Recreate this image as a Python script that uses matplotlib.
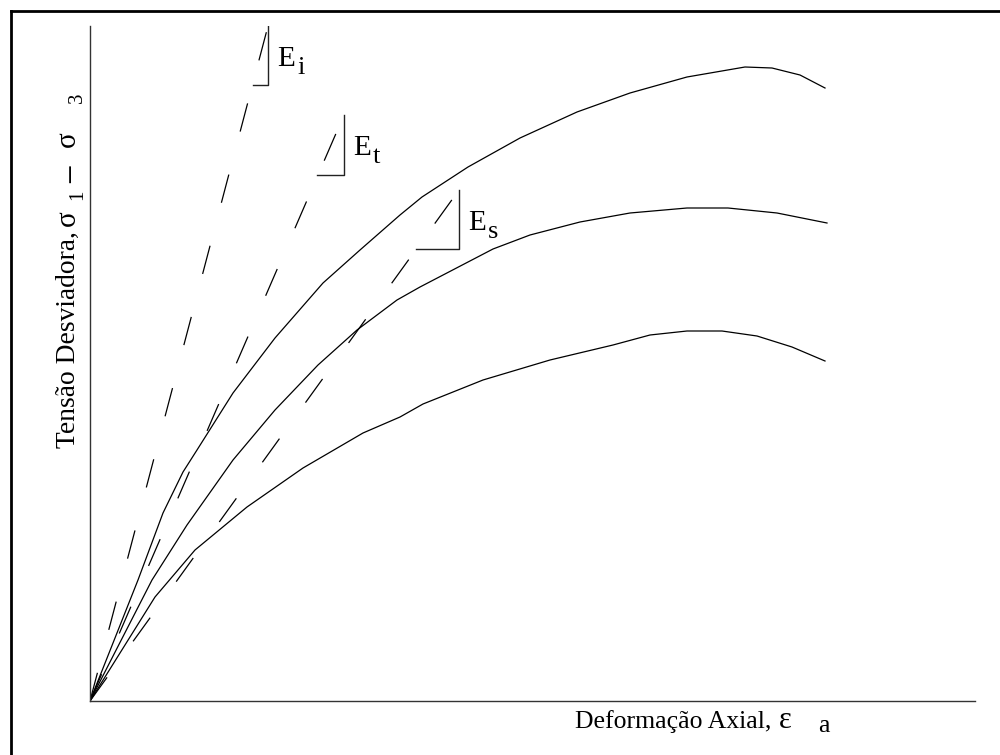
import matplotlib
matplotlib.use("Agg")
import matplotlib.pyplot as plt
from matplotlib.lines import Line2D

plt.rcParams['font.family'] = ['Liberation Serif', 'DejaVu Serif']
plt.rcParams['lines.scale_dashes'] = False

# Curves (axial strain, deviator stress) in arbitrary units
eps_top = [0, 48, 73, 93, 107, 143, 185, 233, 270, 310, 332, 378, 430, 487, 540, 597, 655, 682, 710, 735]
sig_top = [0, 121, 188, 229, 251, 308, 363, 418, 451, 486, 504, 534, 563, 589, 608, 624, 634, 633, 626, 613]

eps_mid = [0, 62, 97, 143, 185, 228, 267, 307, 330, 403, 440, 490, 540, 597, 638, 687, 737]
sig_mid = [0, 121, 176, 241, 291, 336, 371, 401, 414, 452, 466, 479, 488, 493, 493, 488, 478]

eps_low = [0, 65, 105, 157, 213, 273, 310, 333, 393, 460, 523, 560, 597, 632, 667, 702, 735]
sig_low = [0, 104, 151, 194, 233, 268, 284, 297, 321, 341, 356, 366, 370, 370, 365, 354, 340]

# Moduli: dashed lines from origin to these end points, with slope triangles
mod_labels = ['i', 't', 's']
mod_end_eps = [178, 254, 369]
mod_end_sig = [675, 586, 511]
tri_base = [15, 27, 43]
tri_height = [59, 60, 59]

fig = plt.figure(figsize=(10, 7.55), dpi=100)
ax = fig.add_axes([0.09, 54 / 755, 0.885, 675 / 755])
ax.set_xlim(0, 885)
ax.set_ylim(0, 675)
for s in ['top', 'right']:
    ax.spines[s].set_visible(False)
for s in ['left', 'bottom']:
    ax.spines[s].set_color('#333333')
    ax.spines[s].set_linewidth(1.0)
ax.set_xticks([])
ax.set_yticks([])

for e, s in [(eps_top, sig_top), (eps_mid, sig_mid), (eps_low, sig_low)]:
    ax.plot(e, s, color='black', lw=0.9, solid_joinstyle='round')

for lab, xe, ye, b, h in zip(mod_labels, mod_end_eps, mod_end_sig, tri_base, tri_height):
    ax.plot([0, xe], [0, ye], color='black', lw=0.9, dashes=(21, 32))
    ax.plot([xe - b, xe, xe], [ye - h, ye - h, ye], color='#222222', lw=1.0)
    ax.text(xe + 9, ye - 40, 'E', fontsize=21, ha='left', va='baseline')
    ax.text(xe + 29, ye - 48, lab, fontsize=19, ha='left', va='baseline')

# X axis title
ax.text(485, -27, 'Deformação Axial,', fontsize=18.5, ha='left', va='baseline', clip_on=False)
ax.text(689, -27, 'ε', fontsize=22, ha='left', va='baseline', clip_on=False)
ax.text(728, -31, 'a', fontsize=18.5, ha='left', va='baseline', clip_on=False)

# Y axis title (pieces, rotated)
ykw = dict(rotation=90, rotation_mode='anchor', ha='left', va='baseline', clip_on=False)
ax.text(-15, 253, 'Tensão Desviadora,', fontsize=19.8, **ykw)
ax.text(-15, 475, 'σ', fontsize=21, **ykw)
ax.text(-8, 501, '1', fontsize=15, **ykw)
ax.text(-9, 518, '−', fontsize=26, **ykw)
ax.text(-15, 554, 'σ', fontsize=21, **ykw)
ax.text(-8, 598, '3', fontsize=15, **ykw)

# Outer frame (left and top edges visible)
fig.add_artist(Line2D([11 / 1000, 11 / 1000], [0, 1 - 11 / 755], transform=fig.transFigure,
                      color='black', lw=2.0))
fig.add_artist(Line2D([11 / 1000, 1.0], [1 - 11 / 755, 1 - 11 / 755], transform=fig.transFigure,
                      color='black', lw=2.0))

fig.savefig('out.png', dpi=100, facecolor='white')
